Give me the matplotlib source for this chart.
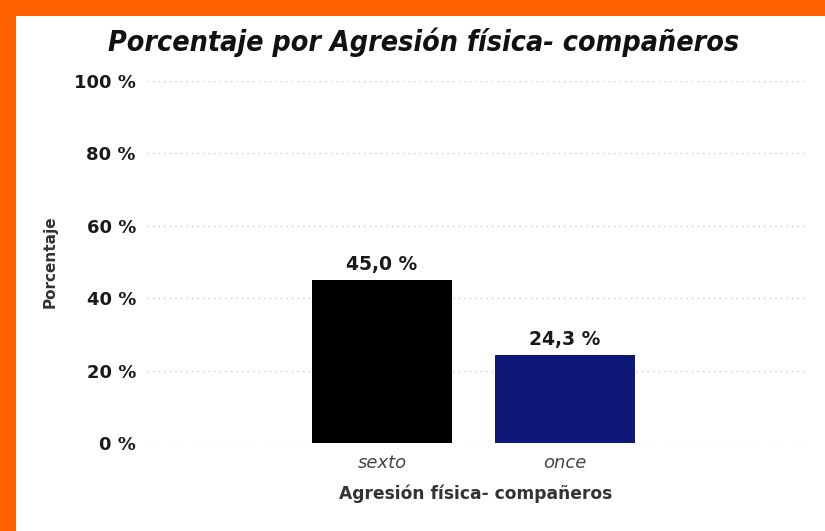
import matplotlib
matplotlib.use("Agg")
import matplotlib.pyplot as plt
from matplotlib.patches import Rectangle
from matplotlib.ticker import FuncFormatter

categories = ["sexto", "once"]
values = [45.0, 24.3]
bar_colors = ["#000000", "#0E1877"]
yticks = [0, 20, 40, 60, 80, 100]

W, H = 825, 531
fig = plt.figure(figsize=(W / 100, H / 100), dpi=100)
fig.patch.set_facecolor("white")

# orange frame (top and left)
fig.patches.append(Rectangle((0, 1 - 16 / H), 1, 16 / H, transform=fig.transFigure,
                             facecolor="#FF6100", edgecolor="none", zorder=0))
fig.patches.append(Rectangle((0, 0), 16 / W, 1, transform=fig.transFigure,
                             facecolor="#FF6100", edgecolor="none", zorder=0))

x0, x1 = 147, 805
y_top, y_bot = 81, 443
ax = fig.add_axes([x0 / W, 1 - y_bot / H, (x1 - x0) / W, (y_bot - y_top) / H])
ax.set_facecolor("none")

xs = list(range(len(categories)))
bars = ax.bar(xs, values, width=0.76, color=bar_colors, zorder=3)
ax.set_xlim(-1.284, 2.311)
ax.set_ylim(0, 100)
ax.set_yticks(yticks)
ax.yaxis.set_major_formatter(FuncFormatter(lambda v, p: f"{int(v)} %"))
ax.set_xticks(xs)
ax.set_xticklabels(categories, fontstyle="italic", fontsize=13, color="#444444")
for lab in ax.get_yticklabels():
    lab.set_fontweight("bold")
    lab.set_fontsize(13)
    lab.set_color("#1a1a1a")
ax.tick_params(axis="both", length=0)
ax.tick_params(axis="y", pad=8)
ax.tick_params(axis="x", pad=8)
for s in ax.spines.values():
    s.set_visible(False)
ax.grid(axis="y", color="#cccccc", linestyle=(0, (1, 3)), linewidth=1, zorder=0)
ax.set_axisbelow(True)

for b, v in zip(bars, values):
    ax.text(b.get_x() + b.get_width() / 2, v + 1.6, f"{v:.1f} %".replace(".", ","),
            ha="center", va="bottom", fontsize=13.5, fontweight="bold", color="#1a1a1a")

ax.set_xlabel("Agresión física- compañeros", fontsize=12.3, fontweight="bold",
              color="#333333", labelpad=9)
fig.text(50 / W, 1 - 262 / H, "Porcentaje", rotation=90, ha="center", va="center",
         fontsize=11, fontweight="bold", color="#333333")

fig.text(424 / W, 1 - 42 / H, "Porcentaje por Agresión física- compañeros",
         ha="center", va="center", fontsize=20.5, fontweight="bold", fontstyle="italic",
         fontstretch="condensed", color="#111111")

fig.savefig("out.png", dpi=100, facecolor=fig.get_facecolor())
